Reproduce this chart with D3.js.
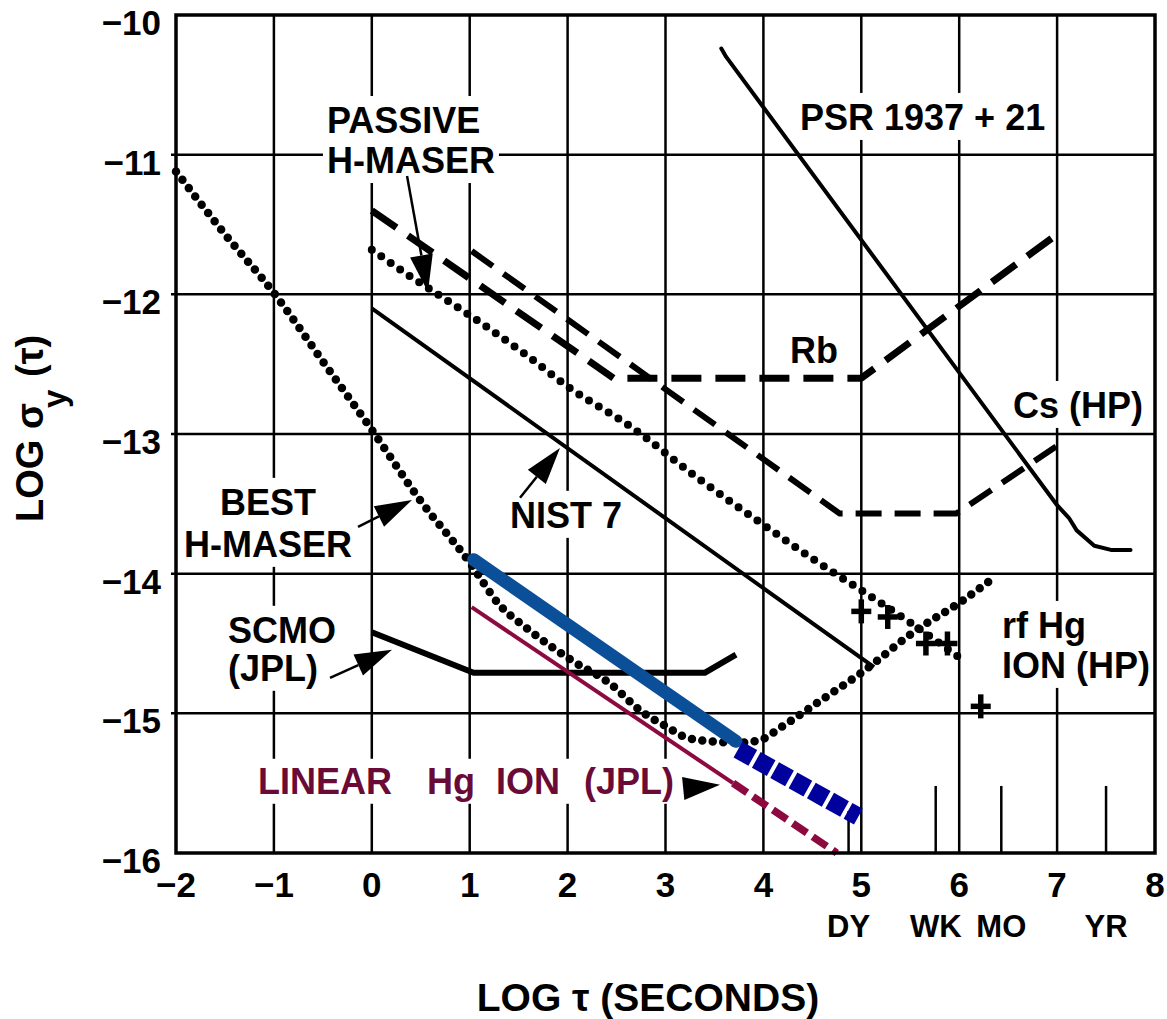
<!DOCTYPE html>
<html>
<head>
<meta charset="utf-8">
<script src="https://cdn.jsdelivr.net/npm/d3@7"></script>
<style>
  html, body { margin: 0; padding: 0; background: #fff; }
  svg text { font-family: "Liberation Sans", Arial, Helvetica, sans-serif; font-weight: bold; }
</style>
</head>
<body>
<div id="chart"></div>
<script>
// axis ticks
var xTicks = [-2, -1, 0, 1, 2, 3, 4, 5, 6, 7, 8];
var yTicks = [-10, -11, -12, -13, -14, -15, -16];

// log sigma_y vs log tau
var bestHMaser = [[-2,-11.12],[-1.5,-11.57],[-1,-11.99],[-0.5,-12.48],[0,-12.97],[0.5,-13.48],[1,-13.92],
  [1.3,-14.22],[1.6,-14.4],[2.04,-14.62],[2.42,-14.78],[2.78,-15.0],[3.0,-15.09],[3.2,-15.17],[3.45,-15.2],
  [3.75,-15.21],[3.97,-15.19],[4.18,-15.1],[4.56,-14.92],[5.0,-14.71],[5.57,-14.4],[6.02,-14.2],[6.37,-14.02]];
var passiveHMaser = [[0,-11.68],[0.39,-11.87],[1,-12.15],[1.57,-12.43],[2,-12.66],[2.65,-12.95],[3.3,-13.3],
  [4,-13.65],[4.56,-13.92],[5,-14.12],[5.5,-14.35],[6,-14.6]];
var rb = [[0,-11.4],[2.47,-12.6],[5,-12.6],[7,-11.57]];
var csHP = [[1.02,-11.69],[4.78,-13.57],[5.97,-13.57],[7.03,-13.07]];
var nist7 = [[0,-12.1],[5.13,-14.67]];
var psr = [[3.57,-10.24],[3.62,-10.3],[7.0,-13.51],[7.12,-13.6],[7.2,-13.69],[7.38,-13.8],[7.55,-13.83],[7.75,-13.83]];
var scmo = [[0,-14.42],[1.04,-14.71],[3.4,-14.71],[3.72,-14.58]];
var lits = [[1.04,-13.9],[3.72,-15.2]];
var litsProjected = [[3.74,-15.26],[4.97,-15.74]];
var linearHg = [[1.02,-14.24],[3.69,-15.5]];
var linearHgProjected = [[3.69,-15.5],[4.75,-16.0]];
var rfHgIon = [[5.0,-14.27],[5.27,-14.31],[5.66,-14.5],[5.88,-14.5],[6.22,-14.95]];

// time markers along the bottom
var markerNames = ["DY", "WK", "MO", "YR"];
var markerTau = [4.87, 5.76, 6.43, 7.5];
var markerTop = [-15.7, -15.52, -15.52, -15.52];

var W = 1167, H = 1019;
var x = d3.scaleLinear().domain([-2, 8]).range([176, 1155]);
var y = d3.scaleLinear().domain([-16, -10]).range([853, 15]);

var svg = d3.select("#chart").append("svg")
  .attr("width", W).attr("height", H);

// grid
var grid = svg.append("g");
grid.selectAll(".vx").data(xTicks.slice(1, -1)).enter().append("line")
  .attr("x1", d => x(d)).attr("x2", d => x(d))
  .attr("y1", y(-10)).attr("y2", y(-16))
  .attr("stroke", "#000").attr("stroke-width", 2.5);
grid.selectAll(".hy").data(yTicks.slice(1, -1)).enter().append("line")
  .attr("x1", x(-2) - 5).attr("x2", x(8))
  .attr("y1", d => y(d)).attr("y2", d => y(d))
  .attr("stroke", "#000").attr("stroke-width", 2.5);
grid.selectAll(".mk").data(markerTau).enter().append("line")
  .attr("x1", d => x(d)).attr("x2", d => x(d))
  .attr("y1", (d, i) => y(markerTop[i])).attr("y2", y(-16))
  .attr("stroke", "#000").attr("stroke-width", 2.5);

var bg = svg.append("g");
var series = svg.append("g");
var labels = svg.append("g");

var line = d3.line().x(d => x(d[0])).y(d => y(d[1]));
var smooth = d3.line().x(d => x(d[0])).y(d => y(d[1])).curve(d3.curveMonotoneX);

function path(data, gen, color, width, dash, cap) {
  series.append("path")
    .attr("d", gen(data))
    .attr("fill", "none")
    .attr("stroke", color)
    .attr("stroke-width", width)
    .attr("stroke-dasharray", dash || null)
    .attr("stroke-linecap", cap || "butt")
    .attr("stroke-linejoin", "round");
}

path(psr, line, "#000", 4, null, "round");
path(nist7, line, "#000", 4);
path(rb, line, "#000", 7, "30,14");
path(csHP, line, "#000", 6, "26,13");
path(passiveHMaser, smooth, "#000", 8, "0,11.5", "round");
path(bestHMaser, smooth, "#000", 8.5, "0,10.5", "round");
path(scmo, line, "#000", 6);
path(linearHg, line, "#8c0a40", 4);
path(linearHgProjected, line, "#8c0a40", 7.5, "17,7");
path(lits, line, "#0b4f99", 13, null, "round");
path(litsProjected, line, "#00009c", 18, "17,4");

// rf Hg ion crosses
var cross = series.selectAll(".cross").data(rfHgIon).enter().append("g")
  .attr("transform", d => "translate(" + x(d[0]) + "," + y(d[1]) + ")");
cross.append("line").attr("x1", -10).attr("x2", 10).attr("y1", 0).attr("y2", 0)
  .attr("stroke", "#000").attr("stroke-width", 5.5);
cross.append("line").attr("x1", 0).attr("x2", 0).attr("y1", -12).attr("y2", 12)
  .attr("stroke", "#000").attr("stroke-width", 5.5);

// frame
svg.append("rect")
  .attr("x", x(-2)).attr("y", y(-10))
  .attr("width", x(8) - x(-2)).attr("height", y(-16) - y(-10))
  .attr("fill", "none").attr("stroke", "#000").attr("stroke-width", 3.5);

// tick labels
svg.append("g").selectAll("text").data(yTicks).enter().append("text")
  .attr("x", 161).attr("y", d => y(d) + 20)
  .attr("text-anchor", "end").attr("font-size", 35)
  .text(d => "\u2212" + Math.abs(d));
svg.append("g").selectAll("text").data(xTicks).enter().append("text")
  .attr("x", d => x(d)).attr("y", 897)
  .attr("text-anchor", "middle").attr("font-size", 35)
  .text(d => d < 0 ? "\u2212" + Math.abs(d) : d);
svg.append("g").selectAll("text").data(markerNames).enter().append("text")
  .attr("x", (d, i) => x(markerTau[i])).attr("y", 937)
  .attr("text-anchor", "middle").attr("font-size", 31)
  .text(d => d);

// axis titles
svg.append("text").attr("x", 648).attr("y", 1011)
  .attr("text-anchor", "middle").attr("font-size", 39)
  .text("LOG \u03c4 (SECONDS)");
var yt = svg.append("text").attr("transform", "rotate(-90)").attr("font-size", 38);
yt.append("tspan").attr("x", -522).attr("y", 43).text("LOG \u03c3");
yt.append("tspan").attr("x", -408).attr("y", 66).attr("font-size", 33).text("y");
yt.append("tspan").attr("x", -377).attr("y", 43).text("(\u03c4)");

// curve labels: x, baseline y in data units
var notes = [
  {t: ["PASSIVE", "H-MASER"], x: -0.458, y: -10.845, a: "start", lh: 40},
  {t: ["PSR 1937 + 21"], x: 4.374, y: -10.823, a: "start"},
  {t: ["Rb"], x: 4.272, y: -12.491, a: "start", nobg: true},
  {t: ["Cs (HP)"], x: 6.55, y: -12.885, a: "start"},
  {t: ["BEST", "H-MASER"], x: -1.06, y: -13.579, a: "middle", lh: 42},
  {t: ["SCMO", "(JPL)"], x: -1.469, y: -14.495, a: "start", lh: 38},
  {t: ["NIST 7"], x: 1.412, y: -13.672, a: "start"},
  {t: ["rf Hg", "ION (HP)"], x: 6.437, y: -14.46, a: "start", lh: 40}
];
notes.forEach(function(n) {
  var t = labels.append("text").attr("font-size", 36).attr("text-anchor", n.a);
  n.t.forEach(function(s, i) {
    t.append("tspan").attr("x", x(n.x)).attr("y", y(n.y) + i * (n.lh || 0)).text(s);
  });
  if (!n.nobg) {
    var b = t.node().getBBox();
    bg.append("rect").attr("x", b.x - 4).attr("y", b.y - 4)
      .attr("width", b.width + 8).attr("height", b.height + 6).attr("fill", "#fff");
  }
});

// linear Hg ion label, spaced words
var linWords = ["LINEAR", "Hg", "ION", "(JPL)"];
var linX = [-1.162, 0.564, 1.269, 2.168];
var lt = labels.append("text").attr("font-size", 36).attr("fill", "#6a0a36");
linWords.forEach(function(w, i) {
  lt.append("tspan").attr("x", x(linX[i])).attr("y", y(-15.576)).text(w);
});
var lb = lt.node().getBBox();
bg.append("rect").attr("x", lb.x - 6).attr("y", lb.y - 2)
  .attr("width", lb.width + 10).attr("height", lb.height + 4).attr("fill", "#fff");

// arrows: tail and tip in data units
var arrows = [
  {from: [0.36, -11.153], to: [0.574, -11.983]},
  {from: [-0.141, -13.665], to: [0.411, -13.472]},
  {from: [1.514, -13.457], to: [1.922, -13.1]},
  {from: [-0.427, -14.746], to: [0.206, -14.545]},
  {from: [3.158, -15.54], to: [3.557, -15.512], headOnly: true}
];
arrows.forEach(function(a) {
  var x0 = x(a.from[0]), y0 = y(a.from[1]), x1 = x(a.to[0]), y1 = y(a.to[1]);
  var dx = x1 - x0, dy = y1 - y0, L = Math.sqrt(dx * dx + dy * dy);
  var ux = dx / L, uy = dy / L, hl = 37, hw = 11.5;
  var bx = x1 - ux * hl, by = y1 - uy * hl;
  if (!a.headOnly) {
    labels.append("line").attr("x1", x0).attr("y1", y0).attr("x2", bx).attr("y2", by)
      .attr("stroke", "#000").attr("stroke-width", 2.5);
  }
  labels.append("polygon")
    .attr("points", [[x1, y1], [bx - uy * hw, by + ux * hw], [bx + uy * hw, by - ux * hw]].join(" "))
    .attr("fill", "#000");
});
</script>
</body>
</html>
